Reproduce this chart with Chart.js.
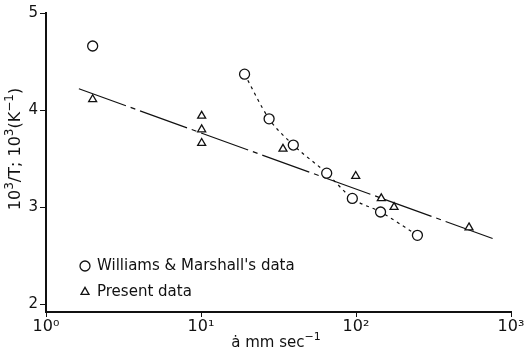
<!DOCTYPE html>
<html>
<head>
<meta charset="utf-8">
<script src="https://cdn.jsdelivr.net/npm/chart.js@4/dist/chart.umd.min.js"></script>
<style>
  html, body { margin: 0; padding: 0; background: #fff; }
  #wrap { width: 526px; height: 353px; }
</style>
</head>
<body>
<div id="wrap"><canvas id="burnChart"></canvas></div>
<script>
// Williams & Marshall's data (circles)
const wmRate = [2.0, 19.1, 27.5, 39.4, 64.7, 94.7, 144, 249];
const wmInvT = [4.66, 4.37, 3.91, 3.64, 3.35, 3.09, 2.95, 2.71];

// Present data (triangles)
const presRate = [2.0, 10.1, 10.1, 10.1, 33.8, 99.6, 145.6, 176, 536];
const presInvT = [4.11, 3.94, 3.80, 3.66, 3.60, 3.32, 3.09, 3.00, 2.79];

// dash-dot fit through the present data
const fitRate = [1.63, 816];
const fitInvT = [4.22, 2.66];

// dotted curve through Williams & Marshall's points
const curveRate = [19.1, 27.5, 39.4, 64.7, 94.7, 144, 249];
const curveInvT = [4.37, 3.91, 3.64, 3.35, 3.09, 2.95, 2.71];

const xTicks = [1, 10, 100, 1000];
const xTickLabels = ['10\u2070', '10\u00b9', '10\u00b2', '10\u00b3'];
const yTicks = [2, 3, 4, 5];

const legendLabels = ["Williams & Marshall's data", 'Present data'];
// [text, isSuperscript]
const yTitleParts = [['10', 0], ['3', 1], ['/T; 10', 0], ['3', 1], ['(K', 0], ['\u22121', 1], [')', 0]];
const xTitleParts = [['\u0227 mm sec', 0], ['\u22121', 1]];

const ink = '#111';
const fontFamily = '"DejaVu Sans", sans-serif';

const toXY = (xs, ys) => xs.map((x, i) => ({ x: x, y: ys[i] }));

// text with raised superscripts, centred on (0, 0) of the current transform
function drawRich(ctx, parts, size) {
    const supSize = Math.round(size * 0.75);
    const fontOf = (sup) => (sup ? supSize : size) + 'px ' + fontFamily;
    let total = 0;
    parts.forEach(([t, sup]) => { ctx.font = fontOf(sup); total += ctx.measureText(t).width; });
    let x = -total / 2;
    parts.forEach(([t, sup]) => {
        ctx.font = fontOf(sup);
        ctx.fillText(t, x, sup ? -size * 0.4 : 0);
        x += ctx.measureText(t).width;
    });
}

// legend inside the plot, bottom left, plus axis titles
const extras = {
    id: 'extras',
    afterDraw(chart) {
        const ctx = chart.ctx;
        ctx.save();
        ctx.fillStyle = ink;
        ctx.strokeStyle = ink;
        ctx.lineWidth = 1.3;
        ctx.font = '15px ' + fontFamily;
        ctx.textBaseline = 'middle';
        ctx.textAlign = 'left';

        // circle marker
        ctx.beginPath();
        ctx.arc(85, 266, 5, 0, Math.PI * 2);
        ctx.stroke();
        ctx.fillText(legendLabels[0], 97, 266);

        // triangle marker
        ctx.fillStyle = '#fff';
        Chart.helpers.drawPoint(ctx, { pointStyle: 'triangle', radius: 4.6, borderWidth: 1.3 }, 85, 292);
        ctx.fillStyle = ink;
        ctx.fillText(legendLabels[1], 97, 292);

        // x axis title
        ctx.textAlign = 'left';
        ctx.save();
        ctx.translate(276, 343);
        drawRich(ctx, xTitleParts, 15);
        ctx.restore();

        // y axis title
        ctx.translate(16, 149);
        ctx.rotate(-Math.PI / 2);
        drawRich(ctx, yTitleParts, 16);
        ctx.restore();
    }
};

new Chart(document.getElementById('burnChart'), {
    type: 'scatter',
    data: {
        datasets: [
            {
                label: legendLabels[0],
                data: toXY(wmRate, wmInvT),
                pointStyle: 'circle',
                pointRadius: 5,
                pointBorderWidth: 1.3,
                borderColor: ink,
                backgroundColor: '#fff',
                showLine: false
            },
            {
                label: legendLabels[1],
                data: toXY(presRate, presInvT),
                pointStyle: 'triangle',
                pointRadius: 4.6,
                pointBorderWidth: 1.3,
                borderColor: ink,
                backgroundColor: '#fff',
                showLine: false
            },
            {
                label: 'fit',
                data: toXY(fitRate, fitInvT),
                showLine: true,
                pointRadius: 0,
                borderColor: ink,
                borderWidth: 1.2,
                borderDash: [50, 5, 5, 5]
            },
            {
                label: 'curve',
                data: toXY(curveRate, curveInvT),
                showLine: true,
                pointRadius: 0,
                borderColor: ink,
                borderWidth: 1.2,
                borderDash: [3, 4],
                cubicInterpolationMode: 'monotone'
            }
        ]
    },
    options: {
        responsive: true,
        maintainAspectRatio: false,
        animation: false,
        layout: { padding: { left: 0, right: 15, top: 13, bottom: 0 } },
        plugins: {
            legend: { display: false },
            tooltip: { enabled: false }
        },
        scales: {
            x: {
                type: 'logarithmic',
                min: 1,
                max: 1000,
                afterBuildTicks: (scale) => { scale.ticks = xTicks.map(v => ({ value: v })); },
                afterFit: (scale) => { scale.height = 41; },
                border: { display: true, color: ink, width: 2 },
                grid: { display: true, drawOnChartArea: false, drawTicks: true, tickLength: 5, color: ink },
                ticks: {
                    color: ink,
                    font: { family: fontFamily, size: 16 },
                    padding: 0,
                    maxRotation: 0,
                    autoSkip: false,
                    callback: (v) => xTickLabels[xTicks.indexOf(v)]
                }
            },
            y: {
                type: 'linear',
                min: 1.92,
                max: 5,
                afterBuildTicks: (scale) => { scale.ticks = yTicks.map(v => ({ value: v })); },
                afterFit: (scale) => { scale.width = 46; },
                border: { display: true, color: ink, width: 2 },
                grid: { display: true, drawOnChartArea: false, drawTicks: true, tickLength: 6, color: ink },
                ticks: {
                    color: ink,
                    font: { family: fontFamily, size: 15 },
                    padding: 2
                }
            }
        }
    },
    plugins: [extras]
});
</script>
</body>
</html>
